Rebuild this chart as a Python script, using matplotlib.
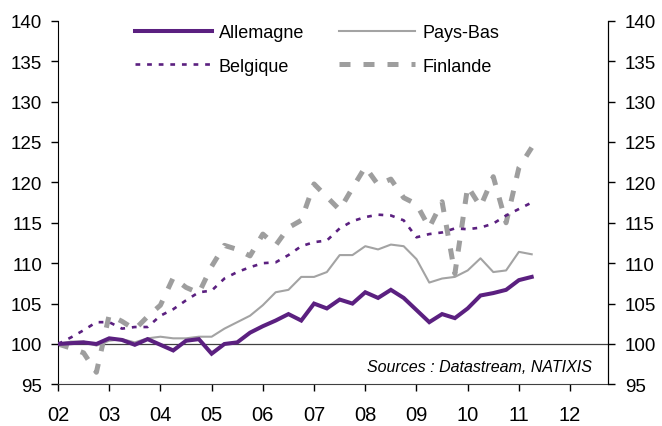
import numpy as np
import pandas as pd
import matplotlib
matplotlib.use("Agg")
from matplotlib import pyplot as plt

# %% data (quarterly index, 2002Q1 = 100)
quarters = pd.period_range("2002Q1", "2011Q2", freq="Q")

allemagne = [100.0, 100.1, 100.2, 100.0, 100.7, 100.5, 99.9, 100.6,
             99.9, 99.2, 100.4, 100.6, 98.8, 100.0, 100.2, 101.4,
             102.2, 102.9, 103.7, 102.9, 105.0, 104.4, 105.5, 105.0,
             106.4, 105.7, 106.7, 105.7, 104.2, 102.7, 103.7, 103.2,
             104.4, 106.0, 106.3, 106.7, 107.9, 108.3]
pays_bas = [100.0, 100.3, 100.3, 99.8, 100.4, 100.6, 100.2, 100.7,
            100.9, 100.7, 100.7, 100.9, 100.9, 101.9, 102.7, 103.5,
            104.8, 106.4, 106.7, 108.3, 108.3, 108.9, 111.0, 111.0,
            112.1, 111.7, 112.3, 112.1, 110.5, 107.6, 108.1, 108.3,
            109.1, 110.6, 108.9, 109.1, 111.4, 111.1]
belgique = [100.0, 100.8, 101.7, 102.7, 102.7, 101.9, 102.1, 102.1,
            103.5, 104.3, 105.4, 106.4, 106.6, 108.1, 108.9, 109.5,
            110.0, 110.1, 111.0, 112.1, 112.6, 112.8, 114.3, 115.2,
            115.7, 116.0, 115.9, 115.3, 113.2, 113.6, 113.8, 114.3,
            114.2, 114.4, 114.9, 115.9, 116.7, 117.5]
finlande = [100.0, 99.5, 98.9, 96.5, 103.6, 102.8, 101.8, 103.4,
            104.8, 108.2, 107.0, 106.3, 109.6, 112.2, 111.7, 110.9,
            113.6, 112.2, 114.4, 115.3, 119.8, 118.2, 116.6, 119.3,
            121.9, 119.7, 120.4, 118.1, 117.3, 114.4, 117.6, 108.7,
            119.5, 117.0, 120.7, 115.0, 121.8, 124.3]

year_ticks = list(range(2002, 2013))
year_labels = ["%02d" % (y % 100) for y in year_ticks]
y_ticks = list(range(95, 141, 5))

x = quarters.year + (quarters.quarter - 1) / 4.0

# %% style
plt.rcParams["font.family"] = ["Liberation Sans", "DejaVu Sans"]
purple = "#5B2080"
grey_nl = "#A3A3A3"
grey_fi = "#9E9E9E"

fig = plt.figure(figsize=(6.62, 4.27), dpi=100)
ax = fig.add_axes([58 / 662, 1 - 385.4 / 427, 550 / 662, (385.4 - 21.7) / 427])

ax.axhline(100, color="#404040", lw=0.9, zorder=1)
l_fi, = ax.plot(x, finlande, color=grey_fi, lw=3.6, linestyle=(0, (2.2, 2.6)),
                label="Finlande", zorder=2)
l_be, = ax.plot(x, belgique, color=purple, lw=1.9, linestyle=(0, (1.8, 2.6)),
                label="Belgique", zorder=3)
l_nl, = ax.plot(x, pays_bas, color=grey_nl, lw=1.5, label="Pays-Bas", zorder=4)
l_de, = ax.plot(x, allemagne, color=purple, lw=2.9, label="Allemagne",
                solid_joinstyle="miter", zorder=5)

ax.set_xlim(2002, 2012.74)
ax.set_ylim(95, 140)
ax.set_xticks(year_ticks)
ax.set_xticklabels(year_labels)
ax.set_yticks(y_ticks)
ax.tick_params(axis="x", direction="out", length=5, width=1, pad=10,
               labelsize=14.5, colors="black")
ax.tick_params(axis="y", direction="out", length=5, width=1, pad=6.5,
               labelsize=13.5)
ax.spines["top"].set_visible(False)
ax.spines["bottom"].set_color("#404040")

# right axis, same scale
ax2 = ax.twinx()
ax2.set_ylim(95, 140)
ax2.set_yticks(y_ticks)
ax2.tick_params(axis="y", direction="out", length=5, width=1, pad=7,
                labelsize=13.5)
ax2.spines["top"].set_visible(False)
ax2.spines["bottom"].set_visible(False)
ax2.spines["left"].set_visible(False)

ax.text(0.971, 0.05, "Sources : Datastream, NATIXIS", transform=ax.transAxes,
        ha="right", va="center", style="italic", fontsize=11.5)

fig.legend(handles=[l_de, l_be, l_nl, l_fi], ncol=2, frameon=False,
           loc="upper left", bbox_to_anchor=(135 / 662, 1 - 25 / 427),
           borderpad=0, borderaxespad=0, handlelength=4.25,
           handletextpad=0.4, columnspacing=1.9, labelspacing=0.92,
           fontsize=13)

fig.savefig("out.png", dpi=100)
